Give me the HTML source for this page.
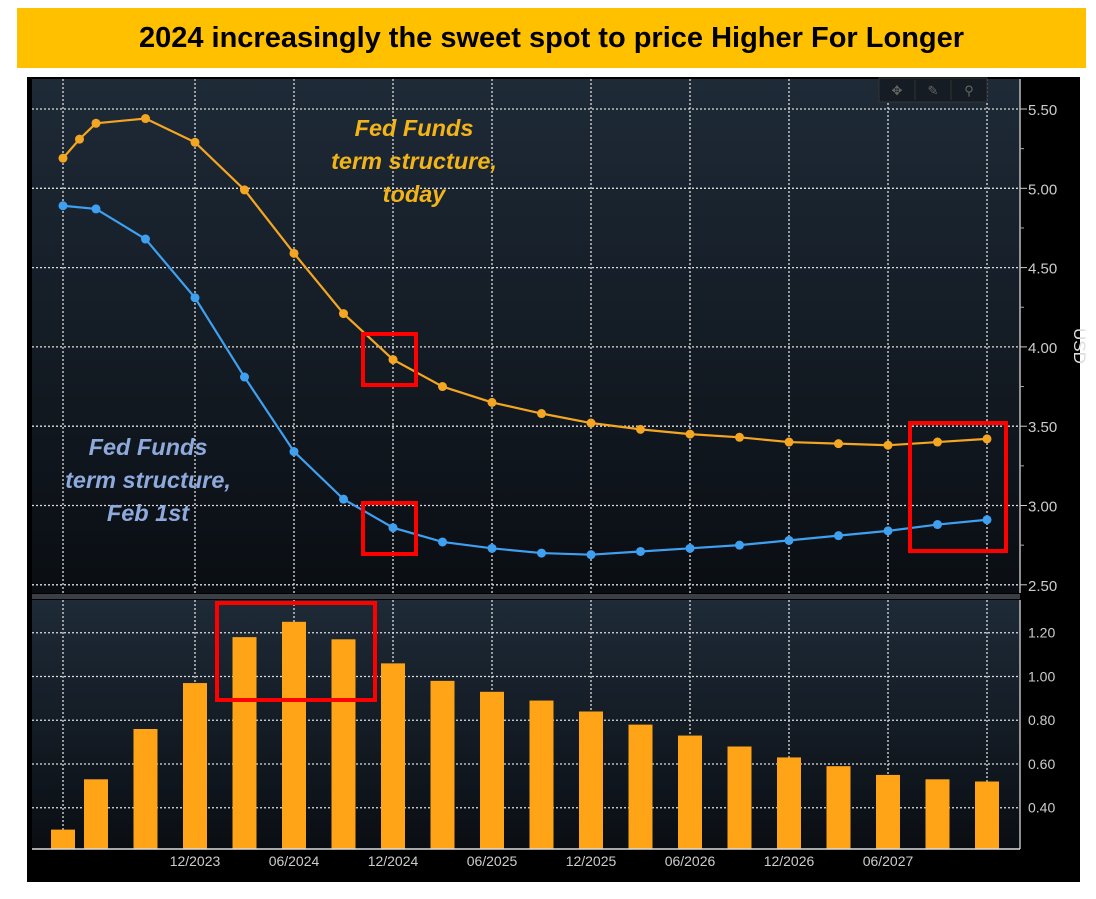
<!DOCTYPE html>
<html><head><meta charset="utf-8"><style>
body{margin:0;background:#fff;width:1096px;height:899px;overflow:hidden;font-family:"Liberation Sans",sans-serif}
#title{position:absolute;left:17px;top:8px;width:1069px;height:60px;background:#FFC000;display:flex;align-items:center;justify-content:center;font-weight:bold;font-size:29px;color:#000}
svg{position:absolute;left:0;top:0}
</style></head><body>
<div id="title">2024 increasingly the sweet spot to price Higher For Longer</div>
<svg id="c" width="1096" height="899">
<defs><linearGradient id="g1" x1="0" y1="0" x2="0" y2="1"><stop offset="0" stop-color="#1e2a37"/><stop offset="1" stop-color="#0a0e13"/></linearGradient>
<linearGradient id="g2" x1="0" y1="0" x2="0" y2="1"><stop offset="0" stop-color="#1e2a37"/><stop offset="1" stop-color="#0a0e13"/></linearGradient></defs>
<rect x="27" y="77" width="1053" height="805" fill="#000"/>
<rect x="32" y="79" width="988" height="514" fill="url(#g1)"/>
<rect x="32" y="600" width="988" height="249" fill="url(#g2)"/>
<rect x="32" y="594" width="988" height="5" fill="#3a3f45"/>
<g id="grid"></g><g id="marks"></g><g id="axes"></g>
<g>
<rect x="879" y="78" width="108" height="24" fill="#161c23" stroke="#333"/>
<line x1="915" y1="80" x2="915" y2="100" stroke="#333"/><line x1="951" y1="80" x2="951" y2="100" stroke="#333"/>
<text x="897" y="95" fill="#666" font-size="13" text-anchor="middle">✥</text>
<text x="933" y="95" fill="#666" font-size="13" text-anchor="middle">✎</text>
<text x="969" y="95" fill="#666" font-size="13" text-anchor="middle">⚲</text>
</g>
<g font-style="italic" font-weight="bold" font-size="23.5" text-anchor="middle">
<text x="414" y="136" fill="#F2B418"><tspan x="414">Fed Funds</tspan><tspan x="414" dy="33">term structure,</tspan><tspan x="414" dy="33">today</tspan></text>
<text x="148" y="455" fill="#8EA9DB"><tspan x="148">Fed Funds</tspan><tspan x="148" dy="33">term structure,</tspan><tspan x="148" dy="33">Feb 1st</tspan></text>
</g>
<text x="1074" y="328" fill="#ddd" font-size="17" transform="rotate(90 1074 328)">USD</text>
<g fill="none" stroke="#f00" stroke-width="4">
<rect x="363" y="334" width="53" height="51"/><rect x="363" y="503" width="53" height="51"/>
<rect x="910" y="423" width="96" height="128"/><rect x="217" y="603" width="158" height="97"/>
</g>
</svg>
<script>
const orangeMonths=[-8,-7,-6,-3,0,3,6,9,12,15,18,21,24,27,30,33,36,39,42,45,48];
const orangeValues=[5.19,5.31,5.41,5.44,5.29,4.99,4.59,4.21,3.92,3.75,3.65,3.58,3.52,3.48,3.45,3.43,3.40,3.39,3.38,3.40,3.42];
const blueMonths=[-8,-6,-3,0,3,6,9,12,15,18,21,24,27,30,33,36,39,42,45,48];
const blueValues=[4.89,4.87,4.68,4.31,3.81,3.34,3.04,2.86,2.77,2.73,2.70,2.69,2.71,2.73,2.75,2.78,2.81,2.84,2.88,2.91];
const barValues=[0.30,0.53,0.76,0.97,1.18,1.25,1.17,1.06,0.98,0.93,0.89,0.84,0.78,0.73,0.68,0.63,0.59,0.55,0.53,0.52];
const topTicks=[5.5,5.0,4.5,4.0,3.5,3.0,2.5];
const botTicks=[1.2,1.0,0.8,0.6,0.4];
const xLabelMonths=[0,6,12,18,24,30,36,42];
const xLabels=["12/2023","06/2024","12/2024","06/2025","12/2025","06/2026","12/2026","06/2027"];
const xGridMonths=[-8,0,6,12,18,24,30,36,42,48];

const NS="http://www.w3.org/2000/svg";
const X=m=>195+m*16.5;
const YT=v=>109+(5.5-v)*158.6;
const YB=v=>849-(v-0.2114)*218.75;
function mk(parent,tag,attrs){const e=document.createElementNS(NS,tag);for(const k in attrs)e.setAttribute(k,attrs[k]);document.getElementById(parent).appendChild(e);return e;}
topTicks.forEach(v=>{const l=mk('grid','line',{x1:32,x2:1020,y1:YT(v),y2:YT(v),stroke:'#ddd','stroke-width':1.3,'stroke-dasharray':'2 2'});

});
botTicks.forEach(v=>{const l=mk('grid','line',{x1:32,x2:1020,y1:YB(v),y2:YB(v),stroke:'#ddd','stroke-width':1.3,'stroke-dasharray':'2 2'});

});
xGridMonths.forEach(m=>{[[79,593],[600,849]].forEach(r=>{const l=mk('grid','line',{x1:X(m),x2:X(m),y1:r[0],y2:r[1],stroke:'#ddd','stroke-width':1.3,'stroke-dasharray':'2 2'});

});});
barValues.forEach((v,i)=>{const x=X(blueMonths[i]);const b=mk('marks','rect',{x:x-12,width:24,y:YB(v),height:849-YB(v),fill:'#FFA317'});

});
function series(ms,vs,color,name){const p=mk('marks','polyline',{points:ms.map((m,i)=>X(m)+','+YT(vs[i])).join(' '),fill:'none',stroke:color,'stroke-width':2.2});


ms.forEach((m,i)=>{const c=mk('marks','circle',{cx:X(m),cy:YT(vs[i]),r:4.5,fill:color});

});}
series(orangeMonths,orangeValues,'#F4A623','today-curve');
series(blueMonths,blueValues,'#3FA0F0','feb1-curve');
let a=mk('axes','line',{x1:1020,x2:1020,y1:79,y2:593,stroke:'#bbb','stroke-width':1.5});


a=mk('axes','line',{x1:1020,x2:1020,y1:600,y2:849,stroke:'#bbb','stroke-width':1.5});


a=mk('axes','line',{x1:32,x2:1020,y1:849,y2:849,stroke:'#ddd','stroke-width':1.5});


topTicks.forEach(v=>{const t=mk('axes','text',{x:1028,y:YT(v)+6,fill:'#ccc','font-size':15});t.textContent=v.toFixed(2);


mk('axes','line',{x1:1020,x2:1027,y1:YT(v),y2:YT(v),stroke:'#ccc'});
if(v>2.5)mk('axes','line',{x1:1020,x2:1024,y1:YT(v-0.25),y2:YT(v-0.25),stroke:'#aaa'});});
botTicks.forEach(v=>{const t=mk('axes','text',{x:1028,y:YB(v)+5,fill:'#ccc','font-size':14});t.textContent=v.toFixed(2);

});
xLabels.forEach((s,i)=>{const t=mk('axes','text',{x:X(xLabelMonths[i]),y:866,fill:'#ccc','font-size':14,'text-anchor':'middle'});t.textContent=s;

});
</script>
</body></html>
